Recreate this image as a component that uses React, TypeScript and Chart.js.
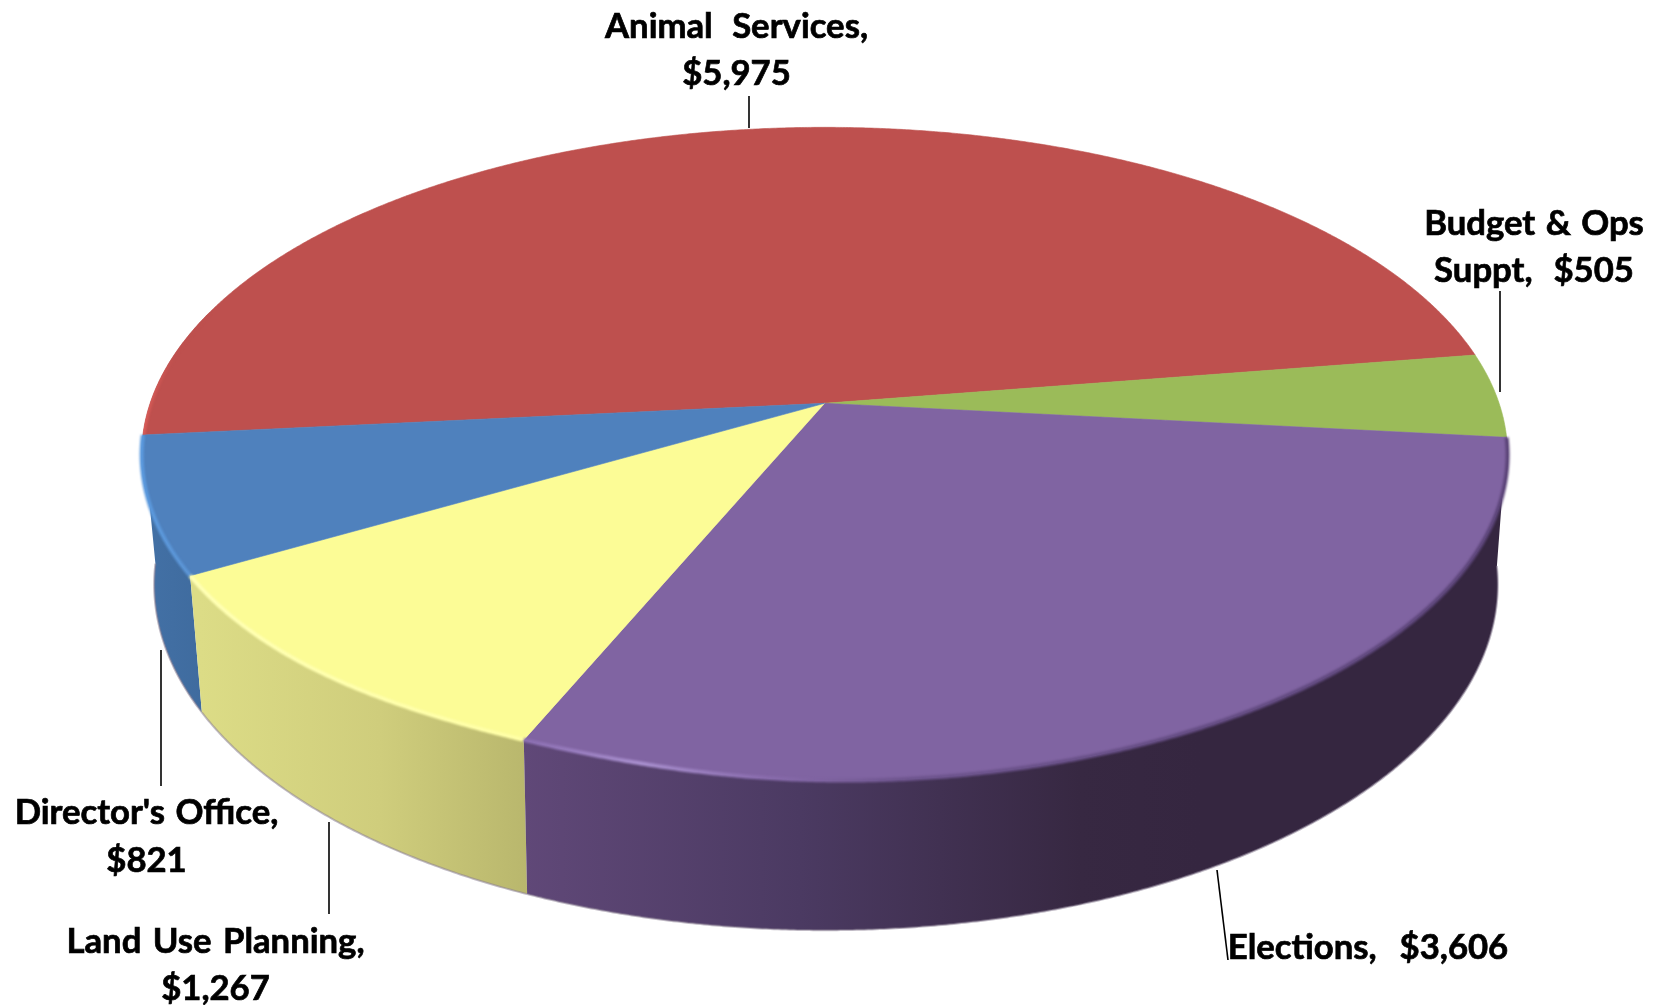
import React, { useEffect, useRef } from "react";
import { Chart, registerables, ArcElement } from "chart.js";

Chart.register(...registerables);

const categories = ["Animal Services", "Budget & Ops Suppt", "Elections", "Land Use Planning", "Director's Office"];
const budgetValues = [5975, 505, 3606, 1267, 821];
const faceColors = ["#BE504E", "#9BBB59", "#8064A2", "#FCFC96", "#4F81BD"];
const labelLines = [
  ["Animal Services,", "$5,975"],
  ["Budget & Ops", "Suppt,  $505"],
  ["Elections,  $3,606"],
  ["Land Use Planning,", "$1,267"],
  ["Director's Office,", "$821"],
];
const labelWordGaps = [11, 2, 3, 3, 2];

const W = 1661;
const H = 1005;
const K = 0.157;
const TAU = Math.PI * 2;
const BUMP = (112.5 * Math.PI) / 180;
const BUMP_W = (18 * Math.PI) / 180;
const TOP = { cx: 824.6, cy: 403.3, a: 674.5, b: 319.3, dent: 1 };
const BOT = { cx: 826, cy: 530.2, a: 663.5, b: 337.2, dent: 0 };

const project = (p: typeof TOP, t: number): [number, number] => {
  const u = Math.cos(t);
  const v = Math.sin(t);
  const w = 1 - K * v;
  const tn = ((t % TAU) + TAU) % TAU;
  const d = p.dent * Math.exp(-(((tn - BUMP) / BUMP_W) ** 2));
  return [p.cx + (p.a * u) / w + 3 * d, p.cy + (p.b * v) / w - 8 * d];
};

const arcPts = (p: typeof TOP, s: number, e: number) => {
  const n = Math.max(2, Math.ceil(Math.abs(e - s) / 0.005));
  const out: [number, number][] = [];
  for (let i = 0; i <= n; i++) out.push(project(p, s + ((e - s) * i) / n));
  return out;
};

const hGrad = (ctx: CanvasRenderingContext2D, stops: [number, string][]) => {
  const g = ctx.createLinearGradient(0, 0, W, 0);
  stops.forEach(([x, c]) => g.addColorStop(x / W, c));
  return g;
};

const trace = (ctx: CanvasRenderingContext2D, pts: [number, number][], move = true) => {
  pts.forEach(([x, y], i) => (i === 0 && move ? ctx.moveTo(x, y) : ctx.lineTo(x, y)));
};

// the slices are Chart.js arc elements, seen through a perspective projection
(ArcElement.prototype as any).draw = function (ctx: CanvasRenderingContext2D) {
  ctx.save();
  ctx.beginPath();
  ctx.moveTo(TOP.cx, TOP.cy);
  trace(ctx, arcPts(TOP, this.startAngle, this.endAngle), false);
  ctx.closePath();
  ctx.fillStyle = this.options.backgroundColor;
  ctx.strokeStyle = this.options.backgroundColor;
  ctx.lineWidth = 0.6;
  ctx.fill();
  ctx.stroke();
  ctx.restore();
};

const sideFills: Record<number, [number, string][]> = {
  2: [[523, "#604878"], [800, "#4B3A62"], [1080, "#372842"], [1200, "#352640"], [1510, "#352640"]],
  3: [[200, "#DCDC86"], [380, "#CFCD7C"], [527, "#B9B76D"]],
  4: [[140, "#4371A6"], [205, "#3F6B9E"]],
};

const rimStrokes: Record<number, [number, string][]> = {
  0: [[140, "#DC5C58"], [175, "#BE504E"]],
  2: [[523, "#8A6DB0"], [640, "#A88FCE"], [760, "#8A6DAE"], [900, "#6E558E"], [1510, "#5B4478"]],
  3: [[190, "#FFFFB4"], [527, "#FFFFA6"]],
  4: [[140, "#5B9ADF"], [200, "#5B93D2"]],
};

const depthPlugin = {
  id: "depth",
  beforeDatasetsDraw(chart: any) {
    const { ctx } = chart;
    const arcs = chart.getDatasetMeta(0).data;
    ctx.save();
    [4, 3, 2].forEach((i) => {
      const a = arcs[i];
      const top = arcPts(TOP, a.startAngle, a.endAngle);
      const bot = arcPts(BOT, a.endAngle, a.startAngle);
      ctx.beginPath();
      trace(ctx, top);
      trace(ctx, bot, false);
      ctx.closePath();
      ctx.fillStyle = hGrad(ctx, sideFills[i]);
      ctx.fill();
      ctx.beginPath();
      trace(ctx, arcPts(BOT, a.startAngle, a.endAngle));
      ctx.lineWidth = 2;
      ctx.strokeStyle = "rgba(140,130,150,0.55)";
      ctx.stroke();
    });
    ctx.restore();
  },
  afterDatasetsDraw(chart: any) {
    const { ctx } = chart;
    const arcs = chart.getDatasetMeta(0).data;
    ctx.save();
    ctx.filter = "blur(1.2px)";
    [4, 3, 2].forEach((i) => {
      const a = arcs[i];
      ctx.beginPath();
      trace(ctx, arcPts(TOP, a.startAngle, a.endAngle));
      ctx.lineWidth = 4;
      ctx.strokeStyle = hGrad(ctx, rimStrokes[i]);
      ctx.stroke();
    });
    const red = arcs[0];
    ctx.beginPath();
    ctx.moveTo(TOP.cx, TOP.cy);
    trace(ctx, arcPts(TOP, red.startAngle, red.endAngle), false);
    ctx.closePath();
    ctx.clip();
    ctx.beginPath();
    trace(ctx, arcPts(TOP, red.startAngle, red.startAngle + 0.4));
    ctx.lineWidth = 5;
    ctx.strokeStyle = hGrad(ctx, rimStrokes[0]);
    ctx.stroke();
    ctx.restore();
  },
};

const leaderLines: [number, number, number, number][] = [
  [749, 96, 749, 128],
  [1500, 291, 1500, 392],
  [1217, 870, 1228, 960],
  [329, 822, 329, 914],
  [161, 650, 161, 786],
];
const labelAnchors: [number, number][] = [
  [736.5, 37.5],
  [1534, 234.5],
  [1368, 959],
  [215.5, 952.5],
  [146.5, 824],
];

const labelPlugin = {
  id: "labels3d",
  afterDraw(chart: any) {
    const { ctx } = chart;
    ctx.save();
    ctx.strokeStyle = "#000";
    ctx.lineWidth = 1.6;
    leaderLines.forEach(([x1, y1, x2, y2]) => {
      ctx.beginPath();
      ctx.moveTo(x1, y1);
      ctx.lineTo(x2, y2);
      ctx.stroke();
    });
    ctx.fillStyle = "#000";
    ctx.lineWidth = 0.7;
    ctx.font = "700 34.7px Lato";
    ctx.textAlign = "center";
    ctx.textBaseline = "alphabetic";
    labelLines.forEach((lines, i) => {
      const [x, y] = labelAnchors[i];
      ctx.wordSpacing = `${labelWordGaps[i]}px`;
      lines.forEach((line, j) => {
        ctx.fillText(line, x, y + j * 47.5);
        ctx.strokeText(line, x, y + j * 47.5);
      });
    });
    ctx.restore();
  },
};

export default function App() {
  const ref = useRef<HTMLCanvasElement>(null);
  useEffect(() => {
    document.body.style.margin = "0";
    document.body.style.background = "#fff";
    const chart = new Chart(ref.current as HTMLCanvasElement, {
      type: "pie",
      data: {
        labels: categories,
        datasets: [{ data: budgetValues, backgroundColor: faceColors, borderWidth: 0 }],
      },
      options: {
        animation: false,
        responsive: false,
        devicePixelRatio: 1,
        rotation: 264.4,
        plugins: { legend: { display: false }, tooltip: { enabled: false } },
      } as any,
      plugins: [depthPlugin, labelPlugin],
    });
    return () => chart.destroy();
  }, []);
  return (
    <div style={{ width: W, height: H }}>
      <canvas ref={ref} width={W} height={H} style={{ display: "block", width: W, height: H }} />
    </div>
  );
}
